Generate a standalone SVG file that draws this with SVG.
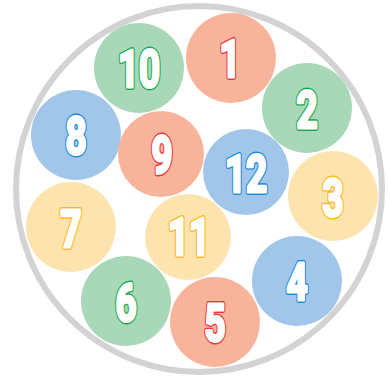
<svg xmlns="http://www.w3.org/2000/svg" width="388" height="377" viewBox="0 0 388 377">
<style>
.g{fill:#a9d8b8}.r{fill:#f8b49b}.b{fill:#a1c6ea}.y{fill:#fde3ae}
text{font-family:Roboto,"Liberation Sans",sans-serif;font-weight:700;font-size:51px;text-anchor:middle;fill:#fff;stroke-linejoin:round}
.o{stroke-width:6}
.w{stroke:#fff;stroke-width:3.2}
.tg{stroke:#17a84b}.tr{stroke:#ee3338}.tb{stroke:#1b8ad6}.ty{stroke:#fbb816}
</style>
<rect width="388" height="377" fill="#fff"/>
<circle cx="199" cy="189" r="183" fill="none" stroke="#d3d3d3" stroke-width="6"/>
<g id="n1"><circle class="r" cx="231" cy="58" r="45"/><g transform="translate(230,77) scale(0.72,1)"><text class="o tr">1</text><text class="w">1</text></g></g>
<g id="n2"><circle class="g" cx="307" cy="108" r="45"/><g transform="translate(307,128) scale(0.72,1)"><text class="o tg">2</text><text class="w">2</text></g></g>
<g id="n3"><circle class="y" cx="333" cy="196" r="45"/><g transform="translate(333,216) scale(0.72,1)"><text class="o ty">3</text><text class="w">3</text></g></g>
<g id="n4"><circle class="b" cx="297" cy="281" r="45"/><g transform="translate(297,300) scale(0.72,1)"><text class="o tb">4</text><text class="w">4</text></g></g>
<g id="n6"><circle class="g" cx="126" cy="301" r="45"/><g transform="translate(126,321) scale(0.72,1)"><text class="o tg">6</text><text class="w">6</text></g></g>
<g id="n7"><circle class="y" cx="71" cy="227" r="45"/><g transform="translate(71,247) scale(0.72,1)"><text class="o ty">7</text><text class="w">7</text></g></g>
<g id="n8"><circle class="b" cx="76" cy="135" r="45"/><g transform="translate(76,154) scale(0.72,1)"><text class="o tb">8</text><text class="w">8</text></g></g>
<g id="n10"><circle class="g" cx="139" cy="68" r="45"/><g transform="translate(139,87) scale(0.72,1)"><text class="o tg">10</text><text class="w">10</text></g></g>
<g id="n9"><circle class="r" cx="161" cy="154" r="43"/><g transform="translate(162,173) scale(0.72,1)"><text class="o tr">9</text><text class="w">9</text></g></g>
<g id="n12"><circle class="b" cx="246" cy="172" r="43"/><g transform="translate(246,192) scale(0.72,1)"><text class="o tb">12</text><text class="w">12</text></g></g>
<g id="n11"><circle class="y" cx="188" cy="237" r="43"/><g transform="translate(189,255) scale(0.72,1)"><text class="o ty">11</text><text class="w">11</text></g></g>
<g id="n5"><circle class="r" cx="215" cy="322" r="45"/><g transform="translate(215,341) scale(0.72,1)"><text class="o tr">5</text><text class="w">5</text></g></g>
<g id="connectors"></g>
</svg>
